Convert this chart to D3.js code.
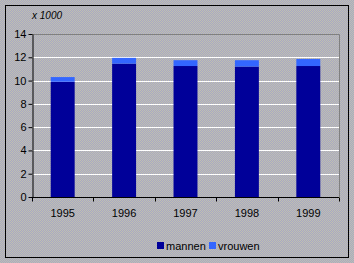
<!DOCTYPE html>
<html>
<head>
<meta charset="utf-8">
<script src="https://cdn.jsdelivr.net/npm/d3@7"></script>
<style>
  body { margin: 0; background: #b8b8b8; }
  text { font-family: "Liberation Sans", Arial, sans-serif; }
</style>
</head>
<body>
<div id="chart"></div>
<script>
const years = ["1995", "1996", "1997", "1998", "1999"];
const mannen = [9.9, 11.45, 11.25, 11.2, 11.25];
const vrouwen = [0.4, 0.5, 0.5, 0.55, 0.6];
const seriesNames = ["mannen", "vrouwen"];
const seriesColors = ["#000099", "#3366ff"];
const yTicks = [0, 2, 4, 6, 8, 10, 12, 14];

const W = 354, H = 263;
const margin = { top: 34, right: 15, bottom: 66, left: 32 };
const width = W - margin.left - margin.right;
const height = H - margin.top - margin.bottom;

const svg = d3.select("#chart").append("svg")
    .attr("width", W)
    .attr("height", H);

// dithered grey background
const defs = svg.append("defs");
const pat = defs.append("pattern")
    .attr("id", "dither")
    .attr("width", 2).attr("height", 2)
    .attr("patternUnits", "userSpaceOnUse");
pat.append("rect").attr("width", 2).attr("height", 2).attr("fill", "#c0c0b0");
pat.append("rect").attr("x", 1).attr("width", 1).attr("height", 1).attr("fill", "#a8a8c4");
pat.append("rect").attr("y", 1).attr("width", 1).attr("height", 1).attr("fill", "#a8a8c4");

svg.append("rect")
    .attr("width", W).attr("height", H)
    .attr("fill", "url(#dither)");

svg.append("rect")
    .attr("x", 5.5).attr("y", 5.5)
    .attr("width", 343).attr("height", 252)
    .attr("fill", "none")
    .attr("stroke", "#000")
    .attr("stroke-width", 1);

const g = svg.append("g")
    .attr("transform", `translate(${margin.left},${margin.top})`);

const x = d3.scaleBand()
    .domain(years)
    .range([0, width])
    .paddingInner(0.61)
    .paddingOuter(0.305);

const y = d3.scaleLinear()
    .domain([0, 14])
    .range([height, 0]);

// plot frame (top and right)
g.append("path")
    .attr("d", `M0.5,0.5H${width + 0.5}V${height}`)
    .attr("fill", "none")
    .attr("stroke", "#808080");

// gridlines
g.selectAll(".grid")
    .data(yTicks.filter(d => d > 0 && d < 14))
    .enter()
    .append("line")
    .attr("class", "grid")
    .attr("x1", 0)
    .attr("x2", width)
    .attr("y1", d => Math.round(y(d)) + 0.5)
    .attr("y2", d => Math.round(y(d)) + 0.5)
    .attr("stroke", "#ffffff");

// stacked bars
const rows = years.map((yr, i) => ({ year: yr, mannen: mannen[i], vrouwen: vrouwen[i] }));
const stacked = d3.stack().keys(seriesNames)(rows);

g.selectAll(".layer")
    .data(stacked)
    .enter()
    .append("g")
    .attr("class", "layer")
    .attr("fill", (d, i) => seriesColors[i])
  .selectAll("rect")
    .data(d => d)
    .enter()
    .append("rect")
    .attr("x", d => x(d.data.year))
    .attr("y", d => y(d[1]))
    .attr("width", x.bandwidth())
    .attr("height", d => y(d[0]) - y(d[1]));

// y axis
const yAxis = g.append("g")
    .attr("transform", "translate(0.5,0)")
    .call(d3.axisLeft(y).tickValues(yTicks).tickSize(4).tickPadding(2).tickSizeOuter(0));
yAxis.select(".domain").attr("stroke", "#000");
yAxis.selectAll("line").attr("stroke", "#000");
yAxis.selectAll("text")
    .style("font-size", "11px")
    .attr("fill", "#000");

// x axis with ticks between categories
const xAxis = g.append("g")
    .attr("transform", `translate(0,${height + 0.5})`);
xAxis.append("line")
    .attr("x1", 0).attr("x2", width)
    .attr("stroke", "#000");
const step = width / years.length;
xAxis.selectAll(".xtick")
    .data(d3.range(years.length + 1))
    .enter()
    .append("line")
    .attr("class", "xtick")
    .attr("x1", d => Math.round(d * step) + 0.5)
    .attr("x2", d => Math.round(d * step) + 0.5)
    .attr("y1", 0)
    .attr("y2", 4)
    .attr("stroke", "#000");
xAxis.selectAll(".xlabel")
    .data(years)
    .enter()
    .append("text")
    .attr("class", "xlabel")
    .attr("x", d => x(d) + x.bandwidth() / 2)
    .attr("y", 19)
    .attr("text-anchor", "middle")
    .style("font-size", "11px")
    .text(d => d);

// unit label
svg.append("text")
    .attr("x", 32)
    .attr("y", 19)
    .style("font-size", "10px")
    .style("font-style", "italic")
    .text("x 1000");

// legend
const legend = svg.append("g")
    .attr("transform", "translate(157,242)");
const legendX = [0, 52];
seriesNames.forEach((name, i) => {
    legend.append("rect")
        .attr("x", legendX[i])
        .attr("y", 0)
        .attr("width", 7)
        .attr("height", 7)
        .attr("fill", seriesColors[i]);
    legend.append("text")
        .attr("x", legendX[i] + 9)
        .attr("y", 8)
        .style("font-size", "11px")
        .text(name);
});
</script>
</body>
</html>
